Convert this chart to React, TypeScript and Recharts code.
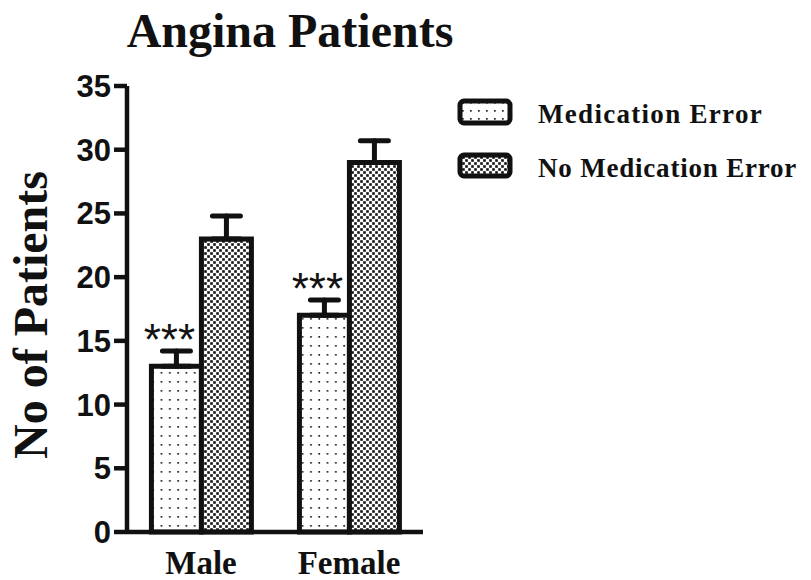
import React from 'react';
import { BarChart, Bar, XAxis, YAxis, ErrorBar, LabelList } from 'recharts';

const categories = ['Male', 'Female'];
const medicationError = [13, 17];
const noMedicationError = [23, 29];
const medicationErrorSEM = [1.2, 1.2];
const noMedicationErrorSEM = [1.8, 1.7];
const significance = ['***', '***'];
const yTicks = [0, 5, 10, 15, 20, 25, 30, 35];
const seriesNames = ['Medication Error', 'No Medication Error'];

const data = categories.map((name, i) => ({
  name,
  me: medicationError[i],
  nme: noMedicationError[i],
  meErr: [0, medicationErrorSEM[i]],
  nmeErr: [0, noMedicationErrorSEM[i]],
  sig: significance[i],
}));

const SERIF = '"Liberation Serif", "Times New Roman", serif';
const SANS = '"Liberation Sans", Arial, sans-serif';
const INK = '#111';

const XTick = (props: any) => {
  const { x, y, payload } = props;
  return (
    <text x={x} y={y} dy={42} textAnchor="middle" fontFamily={SERIF} fontWeight="bold" fontSize={33} fill={INK}>
      {payload.value}
    </text>
  );
};

const SigLabel = (props: any) => {
  const { x, y, width, height, index } = props;
  const d = data[index];
  const pxPerUnit = height / d.me;
  const errTop = y - d.meErr[1] * pxPerUnit;
  return (
    <text x={x + width / 2 - 7} y={errTop + 4} textAnchor="middle" fontFamily={SANS} fontSize={44} fill={INK}>
      {d.sig}
    </text>
  );
};

const LegendBlock = () => (
  <g transform="translate(450 90)">
    <rect x={10} y={11} width={50} height={22} rx={4} fill="url(#lgDots)" stroke={INK} strokeWidth={5} />
    <rect x={10} y={65} width={50} height={21} rx={4} fill="url(#checker)" stroke={INK} strokeWidth={5} />
    <text x={88} y={33} fontFamily={SERIF} fontWeight="bold" fontSize={27} letterSpacing={1.3} fill={INK}>
      {seriesNames[0]}
    </text>
    <text x={88} y={87} fontFamily={SERIF} fontWeight="bold" fontSize={27} letterSpacing={0.8} fill={INK}>
      {seriesNames[1]}
    </text>
  </g>
);

export default function App() {
  return (
    <div style={{ position: 'absolute', left: 0, top: 0, width: 811, height: 580, background: '#fff' }}>
      <BarChart
        width={811}
        height={580}
        data={data}
        margin={{ top: 86, right: 388, bottom: 0, left: 65 }}
        barCategoryGap="16.5%"
        barGap={0}
      >
        <defs>
          <pattern id="dots" width="8.3" height="9" patternUnits="userSpaceOnUse">
            <rect width="8.3" height="9" fill="#fff" />
            <rect x="3" y="3" width="1.7" height="1.7" fill="#222" />
          </pattern>
          <pattern id="lgDots" width="8" height="8" patternUnits="userSpaceOnUse" x="1" y="1">
            <rect width="8" height="8" fill="#fff" />
            <rect x="3" y="3" width="1.7" height="1.7" fill="#222" />
          </pattern>
          <pattern id="checker" width="6" height="6" patternUnits="userSpaceOnUse">
            <rect width="6" height="6" fill="#fff" />
            <rect x="0.2" y="0.2" width="2.6" height="2.6" fill="#111" />
            <rect x="3.2" y="3.2" width="2.6" height="2.6" fill="#111" />
          </pattern>
        </defs>
        <text x={290} y={47} textAnchor="middle" fontFamily={SERIF} fontWeight="bold" fontSize={48} fill={INK}>
          Angina Patients
        </text>
        <text
          x={47}
          y={315}
          transform="rotate(-90 47 315)"
          textAnchor="middle"
          fontFamily={SERIF}
          fontWeight="bold"
          fontSize={48}
          fill={INK}
        >
          No of Patients
        </text>
        <LegendBlock />
        <XAxis
          dataKey="name"
          height={48}
          tickLine={false}
          tickSize={0}
          tickMargin={0}
          axisLine={{ stroke: INK, strokeWidth: 4.5 }}
          tick={<XTick />}
          interval={0}
        />
        <YAxis
          width={62}
          domain={[0, 35]}
          ticks={yTicks}
          interval={0}
          tickSize={13}
          tickMargin={3}
          axisLine={{ stroke: INK, strokeWidth: 4.5 }}
          tickLine={{ stroke: INK, strokeWidth: 4.5 }}
          tick={{ fontFamily: SANS, fontWeight: 'bold', fontSize: 31, fill: INK }}
        />
        <Bar dataKey="me" name={seriesNames[0]} fill="url(#dots)" stroke={INK} strokeWidth={5} isAnimationActive={false}>
          <ErrorBar dataKey="meErr" width={14} stroke={INK} strokeWidth={5} strokeLinecap="round" isAnimationActive={false} />
          <LabelList dataKey="me" content={<SigLabel />} />
        </Bar>
        <Bar dataKey="nme" name={seriesNames[1]} fill="url(#checker)" stroke={INK} strokeWidth={5} isAnimationActive={false}>
          <ErrorBar dataKey="nmeErr" width={14} stroke={INK} strokeWidth={5} strokeLinecap="round" isAnimationActive={false} />
        </Bar>
      </BarChart>
    </div>
  );
}
